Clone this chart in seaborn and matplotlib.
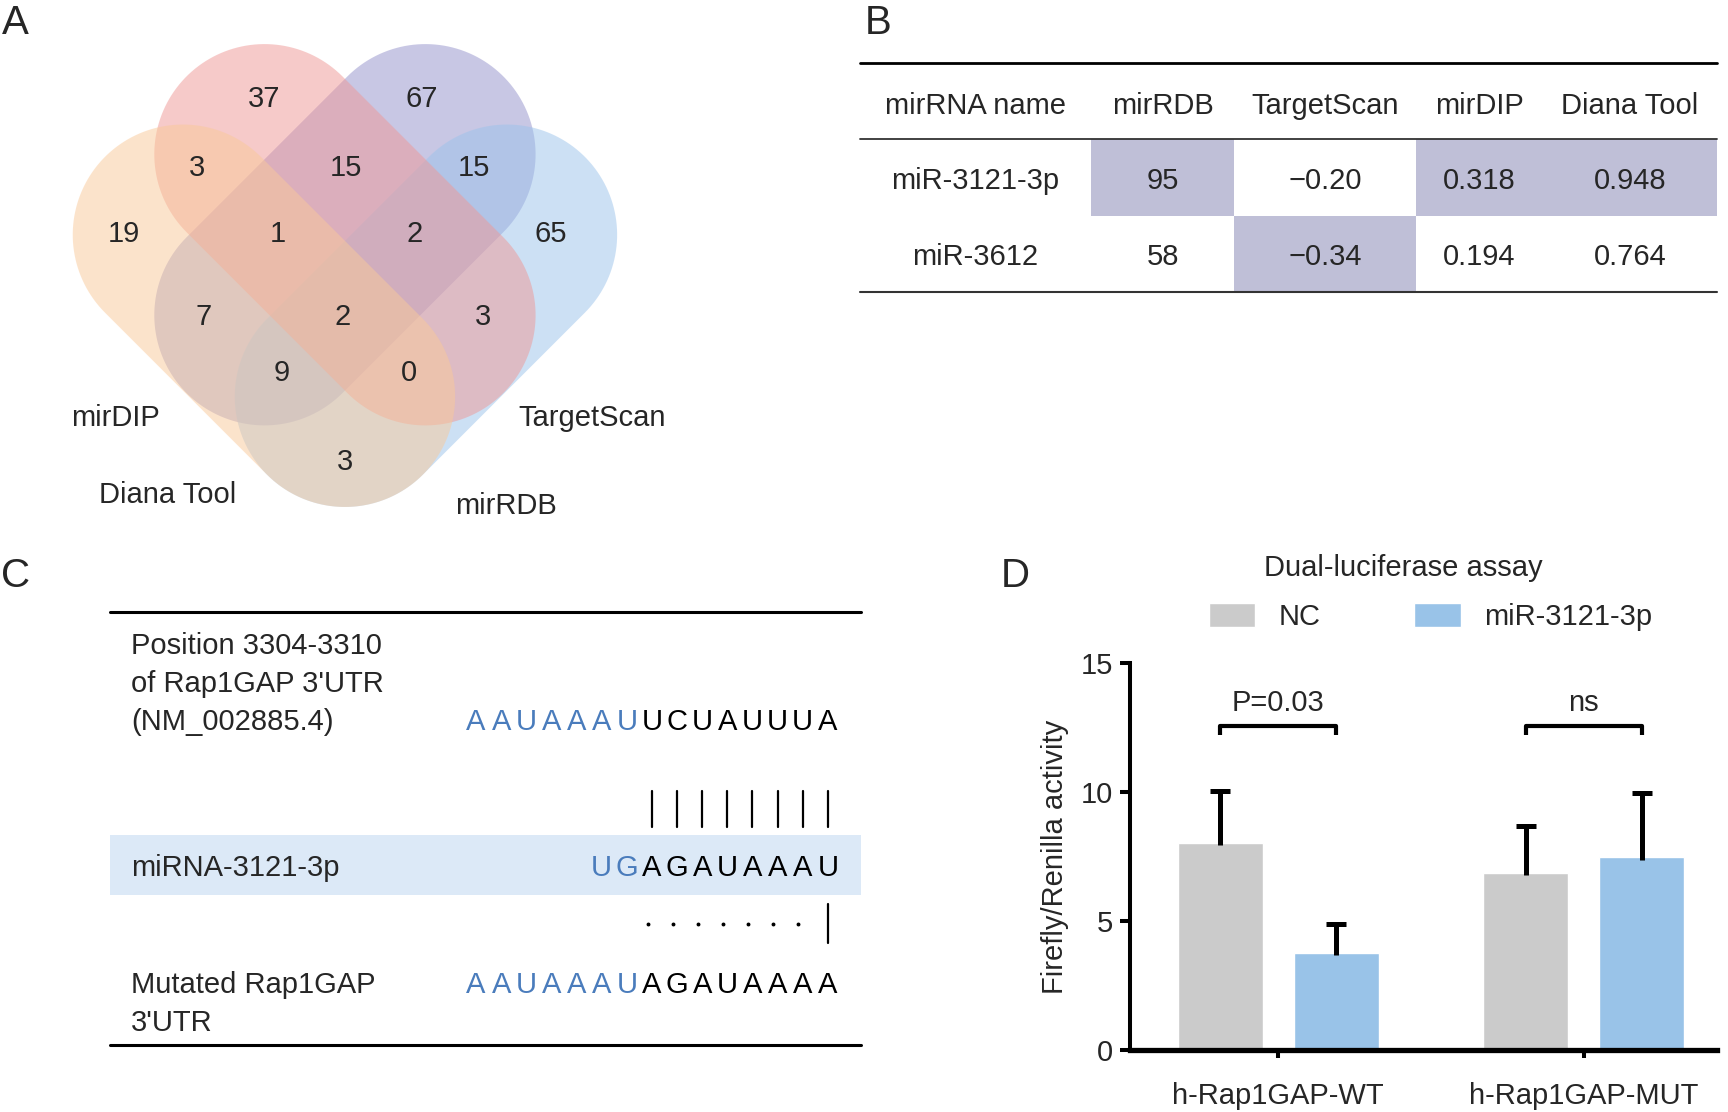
import matplotlib
matplotlib.use("Agg")
import numpy as np
import pandas as pd
import matplotlib.pyplot as plt
import seaborn as sns
from matplotlib.patches import Polygon, Rectangle

# ---------------- data ----------------
# A: Venn diagram
venn_sets = ["mirDIP", "Diana Tool", "mirRDB", "TargetScan"]
venn_counts = [37, 67, 3, 15, 15, 19, 1, 2, 65, 7, 2, 3, 9, 0, 3]

# B: table
table_cols = ["mirRNA name", "mirRDB", "TargetScan", "mirDIP", "Diana Tool"]
mirnas = ["miR-3121-3p", "miR-3612"]
mirrdb_scores = ["95", "58"]
targetscan_scores = ["\u22120.20", "\u22120.34"]
mirdip_scores = ["0.318", "0.194"]
diana_scores = ["0.948", "0.764"]
highlight_cells = [(0, 1), (0, 3), (0, 4), (1, 2)]

# C: binding site
utr_label = ["Position 3304-3310", "of Rap1GAP 3'UTR", "(NM_002885.4)"]
utr_seq = "AAUAAAUUCUAUUUA"
mirna_label = ["miRNA-3121-3p"]
mirna_seq = "UGAGAUAAAU"
mut_label = ["Mutated Rap1GAP", "3'UTR"]
mut_seq = "AAUAAAUAGAUAAAA"

# D: dual-luciferase assay
constructs = ["h-Rap1GAP-WT", "h-Rap1GAP-MUT"]
treatments = ["NC", "miR-3121-3p"]
nc_mean = [8.05, 6.88]
nc_sd = [2.0, 1.82]
mir_mean = [3.79, 7.49]
mir_sd = [1.12, 2.48]
p_labels = ["P=0.03", "ns"]

# ---------------- style ----------------
sns.set_theme(style="white")
plt.rcParams["font.family"] = ["Liberation Sans", "DejaVu Sans"]
FS = 21
SEQ_BLUE = "#4a7cbc"

W, H = 1568, 1009  # layout grid used for panels A-C
fig = plt.figure(figsize=(17.28, 11.12), dpi=100)
ax0 = fig.add_axes([0, 0, 1, 1])
ax0.set_xlim(0, W)
ax0.set_ylim(H, 0)
ax0.axis("off")


def txt(x, y, s, **kw):
    kw.setdefault("fontsize", FS)
    kw.setdefault("ha", "center")
    ax0.text(x, y + 3, s, va="center", **kw)


def stadium(p1, p2, r, color, n=80):
    # capsule shape: two half circles joined by straight sides
    (x1, y1), (x2, y2) = p1, p2
    th = np.arctan2(y2 - y1, x2 - x1)
    a1 = np.linspace(th - np.pi / 2, th + np.pi / 2, n)
    a2 = np.linspace(th + np.pi / 2, th + 3 * np.pi / 2, n)
    pts = np.concatenate([np.c_[x2 + r * np.cos(a1), y2 + r * np.sin(a1)],
                          np.c_[x1 + r * np.cos(a2), y1 + r * np.sin(a2)]])
    return Polygon(pts, closed=True, facecolor=color, edgecolor="none", alpha=0.5)


for letter, (lx, ly) in zip("ABCD", [(14, 18), (797, 18), (14, 520), (921, 520)]):
    txt(lx, ly, letter, fontsize=29)

# ---------------- A: Venn ----------------
# drawing order: purple, blue, red, orange
venn_colors = ["#9391cb", "#9bc3eb", "#ef9795", "#f9c999"]
venn_ends = [((386, 140), (240, 286)), ((460, 213), (313, 360)),
             ((240, 140), (386, 286)), ((166, 213), (313, 360))]
for c, (p1, p2) in zip(venn_colors, venn_ends):
    ax0.add_patch(stadium(p1, p2, 100, c))

count_pos = [(240, 87), (383, 87), (179, 149), (314, 149), (430, 149),
             (112, 209), (252, 209), (376, 209), (500, 209), (185, 285),
             (311, 285), (438, 285), (256, 335), (371, 335), (313, 416)]
for n, (px, py) in zip(venn_counts, count_pos):
    txt(px, py, str(n))

set_pos = [(105, 376), (152, 446), (459, 456), (537, 376)]
for name, (px, py) in zip(venn_sets, set_pos):
    txt(px, py, name)

# ---------------- B: table ----------------
col_edges = [780, 990, 1120, 1285, 1400, 1558]
col_mid = [(a + b) / 2 for a, b in zip(col_edges[:-1], col_edges[1:])]
col_mid[0] = 885
row_edges = [126, 196, 265]
for r, c in highlight_cells:
    ax0.add_patch(Rectangle((col_edges[c], row_edges[r]),
                            col_edges[c + 1] - col_edges[c],
                            row_edges[r + 1] - row_edges[r],
                            facecolor="#bfbfd7", edgecolor="none"))
ax0.plot([780, 1558], [57, 57], color="black", lw=2)
ax0.plot([780, 1558], [126, 126], color="#333333", lw=1.3)
ax0.plot([780, 1558], [265, 265], color="#333333", lw=1.5)
for name, xm in zip(table_cols, col_mid):
    txt(xm, 93, name)
rows = list(zip(mirnas, mirrdb_scores, targetscan_scores, mirdip_scores, diana_scores))
for r, vals in enumerate(rows):
    ym = (row_edges[r] + row_edges[r + 1]) / 2
    for v, xm in zip(vals, col_mid):
        txt(xm, ym, v)

# ---------------- C: binding site ----------------
ax0.plot([100, 781], [555, 555], color="black", lw=2.2)
ax0.plot([100, 781], [948, 948], color="black", lw=2.2)
ax0.add_patch(Rectangle((100, 758), 681, 54, facecolor="#dce9f7", edgecolor="none"))

for lines, y_first in [(utr_label, 583), (mirna_label, 785), (mut_label, 891)]:
    for k, line in enumerate(lines):
        txt(119, y_first + 34.5 * k, line, ha="left")

x0, pitch = 432, 22.8


def draw_seq(seq, n_blue, y, start=0):
    for i, ch in enumerate(seq):
        txt(x0 + pitch * (start + i), y, ch,
            color=SEQ_BLUE if i < n_blue else "black")


draw_seq(utr_seq, 7, 652)
draw_seq(mirna_seq, 2, 785, start=len(utr_seq) - len(mirna_seq))
draw_seq(mut_seq, 7, 891)

for i in range(7, 15):
    xi = x0 + pitch * i
    ax0.plot([xi, xi], [718, 750], color="black", lw=1.6)
for i in range(7, 14):
    ax0.plot(x0 + pitch * i - 4, 838, "o", color="black", ms=1.8)
xl = x0 + pitch * 14
ax0.plot([xl, xl], [820, 856], color="black", lw=1.6)

# ---------------- D: bar chart ----------------
ax = fig.add_axes([1025 / W, 1 - 953 / H, (1558 - 1025) / W, (953 - 602) / H])
ax.set_facecolor("none")

df = pd.DataFrame({
    "construct": constructs * 2,
    "treatment": [treatments[0]] * 2 + [treatments[1]] * 2,
    "activity": nc_mean + mir_mean,
})
sns.barplot(data=df, x="construct", y="activity", hue="treatment",
            palette=["#cbcbcb", "#99c3e8"], saturation=1, width=0.76, gap=0.27,
            errorbar=None, ax=ax)

centers = []
for cont, sds in zip(ax.containers, [nc_sd, mir_sd]):
    xs = []
    for bar, sd in zip(cont, sds):
        xc = bar.get_x() + bar.get_width() / 2
        top = bar.get_height()
        eb = ax.errorbar(xc, top - 0.1, yerr=[[0], [sd + 0.1]], fmt="none",
                         ecolor="black", elinewidth=3.6, capsize=7, capthick=3.6)
        eb[1][0].set_visible(False)  # no cap inside the bar
        xs.append(xc)
    centers.append(xs)

for k, lab in enumerate(p_labels):
    xa, xb = centers[0][k], centers[1][k]
    yb = 12.56
    ax.plot([xa, xa, xb, xb], [yb - 0.35, yb, yb, yb - 0.35], color="black",
            lw=3, solid_joinstyle="round", solid_capstyle="butt")
    ax.text((xa + xb) / 2, 13.45, lab, fontsize=FS, ha="center", va="center")

ax.set_ylim(0, 15)
ax.set_xlim(-0.487, 1.437)
ax.set_yticks([0, 5, 10, 15])
ax.set_xlabel("")
ax.set_ylabel("Firefly/Renilla activity", fontsize=FS)
ax.yaxis.set_label_coords(-0.104, 0.5)
for s in ["top", "right"]:
    ax.spines[s].set_visible(False)
ax.spines["left"].set_linewidth(2.9)
ax.spines["bottom"].set_linewidth(3.8)
ax.spines["left"].set_color("black")
ax.spines["bottom"].set_color("black")
ax.tick_params(axis="y", left=True, length=7, width=2.9, pad=5,
               labelsize=FS, color="black")
ax.tick_params(axis="x", bottom=True, length=6, width=2.9, pad=17,
               labelsize=FS, color="black")

sns.move_legend(ax, "center", bbox_to_anchor=((1298 - 1025) / 533, (953 - 560) / 351),
                ncol=2, title=None, frameon=False, fontsize=FS,
                handlelength=1.6, handleheight=0.85, handletextpad=0.8,
                columnspacing=3.2)

txt(1273, 512, "Dual-luciferase assay")

fig.savefig("out.png", dpi=100)
